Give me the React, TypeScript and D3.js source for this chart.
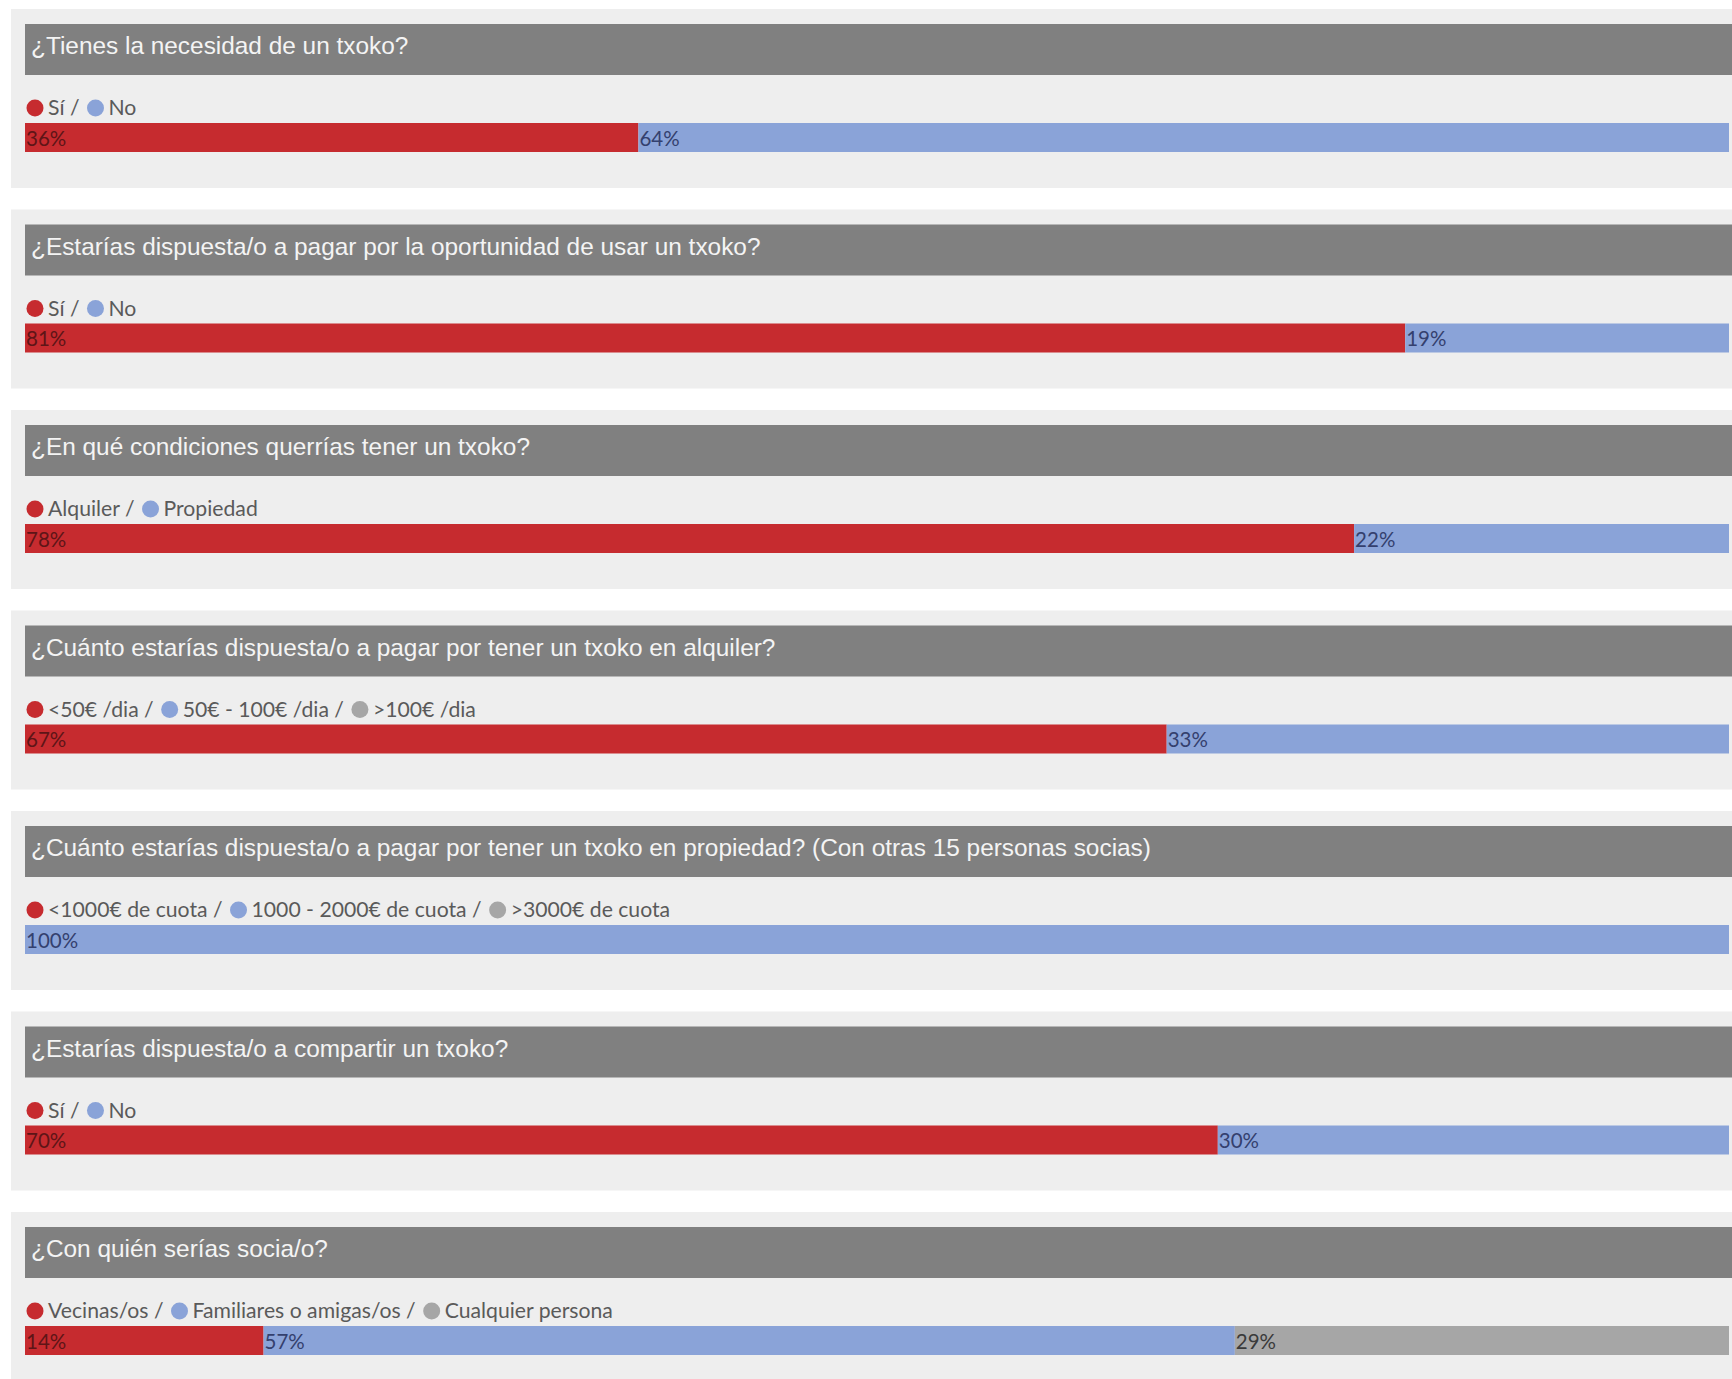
import React, { useEffect, useRef } from "react";
import * as d3 from "d3";

const questions = [
  "¿Tienes la necesidad de un txoko?",
  "¿Estarías dispuesta/o a pagar por la oportunidad de usar un txoko?",
  "¿En qué condiciones querrías tener un txoko?",
  "¿Cuánto estarías dispuesta/o a pagar por tener un txoko en alquiler?",
  "¿Cuánto estarías dispuesta/o a pagar por tener un txoko en propiedad? (Con otras 15 personas socias)",
  "¿Estarías dispuesta/o a compartir un txoko?",
  "¿Con quién serías socia/o?",
];

const legends = [
  ["Sí", "No"],
  ["Sí", "No"],
  ["Alquiler", "Propiedad"],
  ["<50€ /dia", "50€ - 100€ /dia", ">100€ /dia"],
  ["<1000€ de cuota", "1000 - 2000€ de cuota", ">3000€ de cuota"],
  ["Sí", "No"],
  ["Vecinas/os", "Familiares o amigas/os", "Cualquier persona"],
];

const values = [
  [36, 64],
  [81, 19],
  [78, 22],
  [67, 33, 0],
  [0, 100, 0],
  [70, 30],
  [14, 57, 29],
];

const colors = ["#c62b2f", "#8aa3d8", "#a6a6a6"];
const labelColors = ["#5e1517", "#34406e", "#3a3a3a"];

const W = 1732;
const H = 1379;

export default function App() {
  const ref = useRef<SVGSVGElement | null>(null);

  useEffect(() => {
    const svg = d3.select(ref.current);
    svg.selectAll("*").remove();

    const x = d3.scaleLinear().domain([0, 100]).range([25, 1729]);
    const top = d3.scaleLinear().domain([0, 1]).range([9, 209.5]);

    svg.append("rect").attr("width", W).attr("height", H).attr("fill", "#ffffff");

    questions.forEach((q, i) => {
      const g = svg.append("g").attr("transform", `translate(0,${top(i)})`);
      // panel background
      g.append("rect")
        .attr("x", 11)
        .attr("y", 0)
        .attr("width", W - 11)
        .attr("height", 179)
        .attr("fill", "#eeeeee");
      // title bar
      g.append("rect")
        .attr("x", x(0))
        .attr("y", 15)
        .attr("width", W - x(0))
        .attr("height", 51)
        .attr("fill", "#808080");
      g.append("text")
        .attr("x", 31)
        .attr("y", 45)
        .attr("font-family", "Liberation Sans, Arial, sans-serif")
        .attr("font-size", 24.4)
        .attr("fill", "#f4f4f4")
        .text(q);

      // legend
      let cx = 35;
      const ly = 99;
      legends[i].forEach((name, k) => {
        g.append("circle")
          .attr("cx", cx)
          .attr("cy", ly)
          .attr("r", 8.5)
          .attr("fill", colors[k]);
        const label = k < legends[i].length - 1 ? `${name} /` : name;
        const t = g
          .append("text")
          .attr("x", cx + 13)
          .attr("y", ly + 7)
          .attr("font-family", "Lato, sans-serif")
          .attr("font-size", 21.2)
          .attr("fill", "#5a5a5a")
          .text(label);
        const w = (t.node() as SVGTextElement).getComputedTextLength();
        cx = cx + 13 + w + 16;
      });

      // stacked bar
      const vals = values[i];
      const cum = [0, ...Array.from(d3.cumsum(vals))];
      vals.forEach((v, k) => {
        if (v <= 0) return;
        g.append("rect")
          .attr("x", x(cum[k]))
          .attr("y", 114)
          .attr("width", x(cum[k + 1]) - x(cum[k]))
          .attr("height", 29)
          .attr("fill", colors[k]);
      });
      vals.forEach((v, k) => {
        if (v <= 0) return;
        g.append("text")
          .attr("x", x(cum[k]) + 1)
          .attr("y", 136.5)
          .attr("font-family", "Lato, sans-serif")
          .attr("font-size", 20.5)
          .attr("fill", labelColors[k])
          .text(`${v}%`);
      });
    });
  }, []);

  return (
    <div style={{ position: "absolute", left: 0, top: 0 }}>
      <svg ref={ref} width={W} height={H} style={{ display: "block" }} />
    </div>
  );
}
